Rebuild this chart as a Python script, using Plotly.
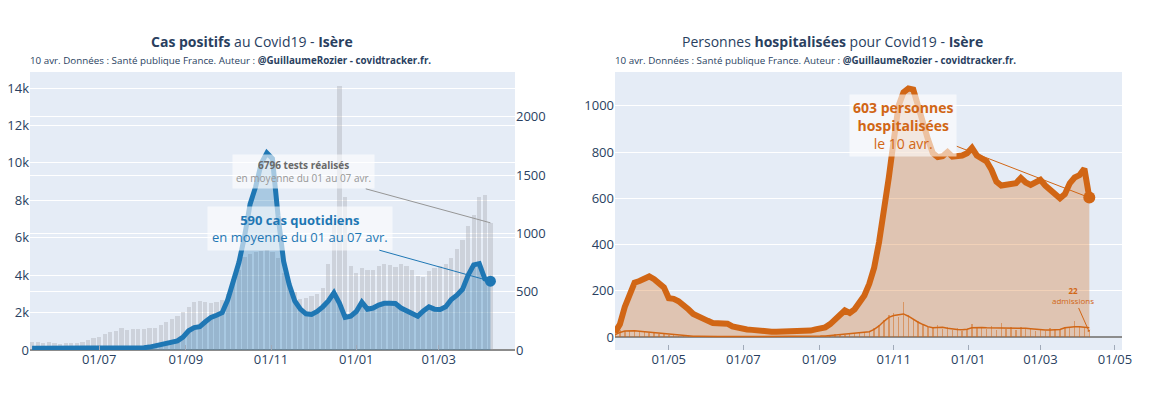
import pandas as pd
import plotly.graph_objects as go

W, H = 1151, 393

# ---------------- Left chart data (Cas positifs) ----------------
test_dates = pd.date_range("2020-05-14", "2021-04-07", freq="4D")
tests = [450, 420, 400, 420, 360,
         340, 380, 360, 350, 420, 520, 620,
         700, 880, 950, 1000, 1180, 1080, 1100, 1120,
         1100, 1150, 1200, 1350, 1500, 1650, 1800, 2050,
         2300, 2580, 2600, 2550, 2500, 2550, 2650,
         3000, 3800, 4300, 4950, 5150, 5250, 5300, 5350,
         5250, 4900, 4100, 3500, 3100, 2700, 2800, 2900,
         3000, 3300, 4600, 6800, 14100, 8200, 4500,
         4100, 4400, 4300, 4250, 4500, 4600, 4550, 4450,
         4600, 4500, 4300, 3950, 3900, 4200, 4400,
         4500, 4600, 4900, 5400, 5900, 6600, 7200, 8200,
         8300, 6796]
cases_avg = [15, 15, 14, 13, 12,
             12, 11, 10, 10, 10, 10, 11,
             12, 12, 12, 13, 13, 14, 15, 16,
             20, 25, 35, 50, 60, 70, 78, 110,
             165, 192, 200, 242, 280, 298, 320,
             430, 600, 750, 970, 1250, 1400, 1600, 1690,
             1640, 1150, 760, 560, 420, 350, 310, 305,
             330, 370, 420, 490, 400, 280, 290,
             330, 410, 350, 360, 385, 400, 400, 398,
             360, 340, 320, 290, 335, 370, 350,
             348, 370, 433, 470, 520, 640, 730, 740,
             610, 590]

# ---------------- Right chart data (hospitalisations) ----------------
hosp_dates = pd.date_range("2020-03-18", "2021-04-10", freq="4D")
hosp = [20, 55, 130, 190,
        235, 242, 250, 262, 250, 235, 215,
        168, 165, 155, 140, 120, 100, 88, 78,
        70, 61, 58, 59, 58, 46, 40, 36,
        33, 31, 28, 26, 25, 23, 23,
        23, 23, 23, 23, 23, 24, 28, 33,
        37, 42, 56, 72, 95, 115, 104, 120,
        155, 180, 230, 300, 410, 540, 690,
        850, 1000, 1058, 1075, 1070, 1000, 910, 855,
        795, 778, 782, 800, 780, 780, 785, 795,
        818, 785, 773, 759, 723, 672, 655,
        660, 665, 665, 688, 668, 658, 670,
        680, 655, 635, 615, 600, 618, 665, 690,
        700, 728, 603]
adm = [20, 30, 28, 25,
       30, 22, 25, 18, 20, 12, 15,
       8, 10, 5, 6, 3, 4, 2, 3,
       2, 1, 3, 1, 2, 1, 2, 1,
       1, 0, 2, 1, 0, 1, 2,
       1, 2, 1, 2, 3, 2, 4, 3,
       5, 6, 8, 12, 15, 10, 14, 18,
       16, 22, 25, 38, 50, 75, 95,
       105, 88, 150, 95, 80, 70, 55, 45,
       40, 50, 35, 45, 30, 38, 28, 35,
       55, 40, 45, 35, 48, 30, 62,
       35, 42, 30, 45, 33, 38, 28,
       35, 25, 40, 30, 35, 45, 40, 70,
       48, 40, 22]
adm_avg = [10, 20, 26, 27,
           27, 25, 23, 20, 18, 15, 12,
           10, 8, 6, 5, 4, 3, 3, 2,
           2, 2, 2, 2, 2, 1, 1, 1,
           1, 1, 1, 1, 1, 1, 1,
           2, 2, 2, 2, 2, 3, 3, 3,
           4, 5, 7, 9, 11, 12, 13, 15,
           16, 19, 23, 33, 48, 68, 85,
           93, 96, 100, 90, 76, 64, 54, 45,
           40, 40, 42, 38, 34, 33, 32, 34,
           40, 42, 41, 40, 40, 39, 40,
           38, 38, 37, 38, 38, 36, 33,
           30, 30, 31, 32, 33, 40, 43, 45,
           45, 42, 40]

BLUE = "rgb(31,119,180)"
ORANGE = "rgb(209,102,21)"
DAY = 86400000

# pixel layout
xl0, xl1 = 30, 515
xr0, xr1 = 615, 1122
yt, yb = 72, 350

fig = go.Figure()

fig.add_trace(go.Bar(x=test_dates, y=tests, width=3.0 * DAY,
                     marker=dict(color="rgba(150,150,155,0.30)", line=dict(width=0)),
                     xaxis="x", yaxis="y", hoverinfo="skip"))
fig.add_trace(go.Scatter(x=test_dates, y=cases_avg, mode="lines",
                         line=dict(color=BLUE, width=5),
                         fill="tozeroy", fillcolor="rgba(31,119,180,0.30)",
                         xaxis="x", yaxis="y2"))
fig.add_trace(go.Scatter(x=[test_dates[-1]], y=[cases_avg[-1]], mode="markers",
                         marker=dict(color=BLUE, size=11), xaxis="x", yaxis="y2"))

fig.add_trace(go.Scatter(x=hosp_dates, y=hosp, mode="lines",
                         line=dict(color=ORANGE, width=6),
                         fill="tozeroy", fillcolor="rgba(209,102,21,0.30)",
                         xaxis="x2", yaxis="y3"))
fig.add_trace(go.Bar(x=hosp_dates, y=adm, width=1.2 * DAY,
                     marker=dict(color="rgba(209,102,21,0.5)", line=dict(width=0)),
                     xaxis="x2", yaxis="y3"))
fig.add_trace(go.Scatter(x=hosp_dates, y=adm_avg, mode="lines",
                         line=dict(color=ORANGE, width=1.5),
                         xaxis="x2", yaxis="y3"))
fig.add_trace(go.Scatter(x=[hosp_dates[-1]], y=[hosp[-1]], mode="markers",
                         marker=dict(color=ORANGE, size=12), xaxis="x2", yaxis="y3"))

dom_y = [1 - yb / H, 1 - yt / H]
xcommon = dict(showgrid=False, zeroline=False, tickformat="%d/%m", dtick="M2",
               ticks="inside", ticklen=5, tickcolor="rgb(160,170,185)",
               tickfont=dict(size=13), automargin=False)
fig.update_layout(
    width=W, height=H, margin=dict(l=0, r=0, t=0, b=0, autoexpand=False),
    template="plotly", paper_bgcolor="white", plot_bgcolor="#E5ECF6",
    font=dict(family="Open Sans", size=13, color="#2a3f5f"),
    showlegend=False, bargap=0,
    xaxis=dict(domain=[xl0 / W, xl1 / W], anchor="y",
               range=["2020-05-12 12:00", "2021-04-24 14:00"],
               tick0="2020-07-01", **xcommon),
    yaxis=dict(domain=dom_y, anchor="x", range=[0, 14855], dtick=2000,
               tickformat="~s", gridcolor="white", zeroline=True,
               zerolinecolor="rgb(140,140,140)", zerolinewidth=2, automargin=False),
    yaxis2=dict(overlaying="y", side="right", anchor="x", range=[0, 2383],
                dtick=500, gridcolor="white", showgrid=True, zeroline=False,
                automargin=False),
    xaxis2=dict(domain=[xr0 / W, xr1 / W], anchor="y3",
                range=["2020-03-18", "2021-05-06 18:00"],
                tick0="2020-05-01", **xcommon),
    yaxis3=dict(domain=dom_y, anchor="x2", range=[-56, 1146], dtick=200,
                gridcolor="white", zeroline=True,
                zerolinecolor="rgb(140,140,140)", zerolinewidth=2, automargin=False),
)

annots = [
    # titles
    dict(text="<b>Cas positifs</b> au Covid19 - <b>Isère</b>", x=252 / W, y=1 - 42 / H,
         xref="paper", yref="paper", showarrow=False, xanchor="center", yanchor="middle",
         font=dict(size=14, color="#2a3f5f")),
    dict(text="10 avr. Données : Santé publique France. Auteur : <b>@GuillaumeRozier - covidtracker.fr.</b>",
         x=28 / W, y=1 - 60 / H, xref="paper", yref="paper", showarrow=False,
         xanchor="left", yanchor="middle", font=dict(size=9.8, color="#2a3f5f")),
    dict(text="Personnes <b>hospitalisées</b> pour Covid19 - <b>Isère</b>", x=832 / W, y=1 - 42 / H,
         xref="paper", yref="paper", showarrow=False, xanchor="center", yanchor="middle",
         font=dict(size=14, color="#2a3f5f")),
    dict(text="10 avr. Données : Santé publique France. Auteur : <b>@GuillaumeRozier - covidtracker.fr.</b>",
         x=613 / W, y=1 - 60 / H, xref="paper", yref="paper", showarrow=False,
         xanchor="left", yanchor="middle", font=dict(size=9.8, color="#2a3f5f")),
    # left annotations
    dict(text="<b>%d tests réalisés</b><br><span style='color:rgb(150,150,150)'>en moyenne du 01 au 07 avr.</span>" % tests[-1],
         x=test_dates[-1], y=tests[-1], xref="x", yref="y",
         ax=-187, ay=-51, showarrow=True, arrowhead=0, arrowwidth=1,
         arrowcolor="rgb(150,150,150)", bgcolor="rgba(255,255,255,0.6)", borderpad=3,
         font=dict(size=10, color="rgb(105,105,105)")),
    dict(text="<b>%d cas quotidiens</b><br>en moyenne du 01 au 07 avr." % cases_avg[-1],
         x=test_dates[-1], y=cases_avg[-1], xref="x", yref="y2",
         ax=-190, ay=-53, showarrow=True, arrowhead=0, arrowwidth=1,
         arrowcolor=BLUE, bgcolor="rgba(255,255,255,0.6)", borderpad=4,
         font=dict(size=13, color=BLUE)),
    # right annotations
    dict(text="<b>%d personnes<br>hospitalisées</b><br>le 10 avr." % hosp[-1],
         x=hosp_dates[-1], y=hosp[-1], xref="x2", yref="y3",
         ax=-186, ay=-72, showarrow=True, arrowhead=0, arrowwidth=1,
         arrowcolor=ORANGE, bgcolor="rgba(255,255,255,0.6)", borderpad=3,
         font=dict(size=14, color=ORANGE)),
    dict(text="<b>%d</b><br>admissions" % adm[-1],
         x=hosp_dates[-1], y=adm[-1], xref="x2", yref="y3",
         ax=-16, ay=-36, showarrow=True, arrowhead=1, arrowsize=0.6, arrowwidth=1,
         arrowcolor=ORANGE, font=dict(size=8, color=ORANGE)),
]
fig.update_layout(annotations=annots)

# remove the default 8px page margin so the figure sits at the window origin
fig.write_html("out.html", config={"displayModeBar": False},
               post_script="document.body.style.margin='0px';")
